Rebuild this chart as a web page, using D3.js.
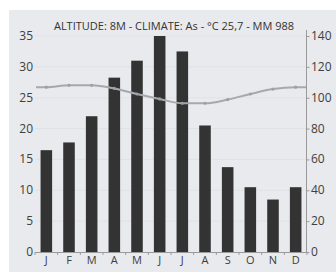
<!DOCTYPE html>
<html><head><meta charset="utf-8">
<script src="https://cdn.jsdelivr.net/npm/d3@7"></script>
<style>
html,body{margin:0;padding:0;background:#fff;}
svg{display:block;font-family:"Open Sans",sans-serif;}
</style></head>
<body>
<svg id="c" width="336" height="277"></svg>
<script>
const months = ["J","F","M","A","M","J","J","A","S","O","N","D"];
const precip = [66,71,88,113,124,140,130,82,55,42,34,42];
const temp = [26.7,27.0,27.0,26.5,25.6,24.8,24.1,24.1,24.7,25.6,26.4,26.7];
const leftTicks = [0,5,10,15,20,25,30,35];
const rightTicks = [0,20,40,60,80,100,120,140];
const title = "ALTITUDE: 8M - CLIMATE: As - °C 25,7 - MM 988";

const svg = d3.select("#c");
svg.append("rect").attr("x",9).attr("y",10).attr("width",327).attr("height",262).attr("fill","#e8eaed");

const m = {l:35, r:307, t:36, b:252};
const x = d3.scaleBand().domain(d3.range(12)).range([m.l,m.r]).paddingInner(0.49).paddingOuter(0.245);
const yL = d3.scaleLinear().domain([0,35]).range([m.b,m.t]);
const yR = d3.scaleLinear().domain([0,140]).range([m.b,m.t]);

// gridlines
svg.append("g").selectAll("line").data(leftTicks.slice(1)).join("line")
  .attr("x1",m.l).attr("x2",m.r).attr("y1",d=>yL(d)).attr("y2",d=>yL(d))
  .attr("stroke","#dfe2e6").attr("stroke-width",1);

// bars
svg.append("g").selectAll("rect").data(precip).join("rect")
  .attr("x",(d,i)=>x(i)).attr("width",x.bandwidth())
  .attr("y",d=>yR(d)).attr("height",d=>yR(0)-yR(d))
  .attr("fill","#333333");

// x axis
const xb = d3.scaleBand().domain(d3.range(12)).range([m.l,m.r]);
const gx = svg.append("g");
gx.append("line").attr("x1",m.l).attr("x2",m.r).attr("y1",m.b+0.5).attr("y2",m.b+0.5).attr("stroke","#9a9a9a");
gx.selectAll("line.t").data(d3.range(13)).join("line").attr("class","t")
  .attr("x1",d=>m.l+d*xb.step()).attr("x2",d=>m.l+d*xb.step())
  .attr("y1",m.b).attr("y2",m.b+3).attr("stroke","#9a9a9a");
gx.selectAll("text").data(months).join("text")
  .attr("x",(d,i)=>x(i)+x.bandwidth()/2).attr("y",m.b+12)
  .attr("text-anchor","middle").attr("font-size",11).attr("fill","#404040").text(d=>d);

// left axis labels
svg.append("g").selectAll("text").data(leftTicks).join("text")
  .attr("x",33).attr("y",d=>yL(d)+4).attr("text-anchor","end")
  .attr("font-size",12).attr("fill","#404040").text(d=>d);

// right axis
const gr = svg.append("g");
gr.append("line").attr("x1",m.r-0.5).attr("x2",m.r-0.5).attr("y1",yR(140)-6).attr("y2",m.b).attr("stroke","#9a9a9a");
gr.selectAll("line.t").data(rightTicks).join("line").attr("class","t")
  .attr("x1",m.r-0.5).attr("x2",m.r+2.5).attr("y1",d=>yR(d)+0.5).attr("y2",d=>yR(d)+0.5).attr("stroke","#9a9a9a");
gr.selectAll("text").data(rightTicks).join("text")
  .attr("x",311).attr("y",d=>yR(d)+4).attr("text-anchor","start")
  .attr("font-size",12).attr("fill","#404040").text(d=>d);

// temperature line
const cx = i=>x(i)+x.bandwidth()/2;
const pts = [[m.l+1,temp[0]]].concat(temp.map((d,i)=>[cx(i),d])).concat([[m.r-1,temp[11]]]);
svg.append("path").datum(pts)
  .attr("d",d3.line().x(d=>d[0]).y(d=>yL(d[1])).curve(d3.curveMonotoneX))
  .attr("fill","none").attr("stroke","#a6a8ae").attr("stroke-width",2);
svg.append("g").selectAll("circle").data(temp).join("circle")
  .attr("cx",(d,i)=>cx(i)).attr("cy",d=>yL(d)).attr("r",1.6)
  .attr("fill","#9ea0a6");

// title
svg.append("text").attr("x",174).attr("y",30).attr("text-anchor","middle")
  .attr("font-size",11).attr("fill","#333").text(title);
</script>
</body></html>
